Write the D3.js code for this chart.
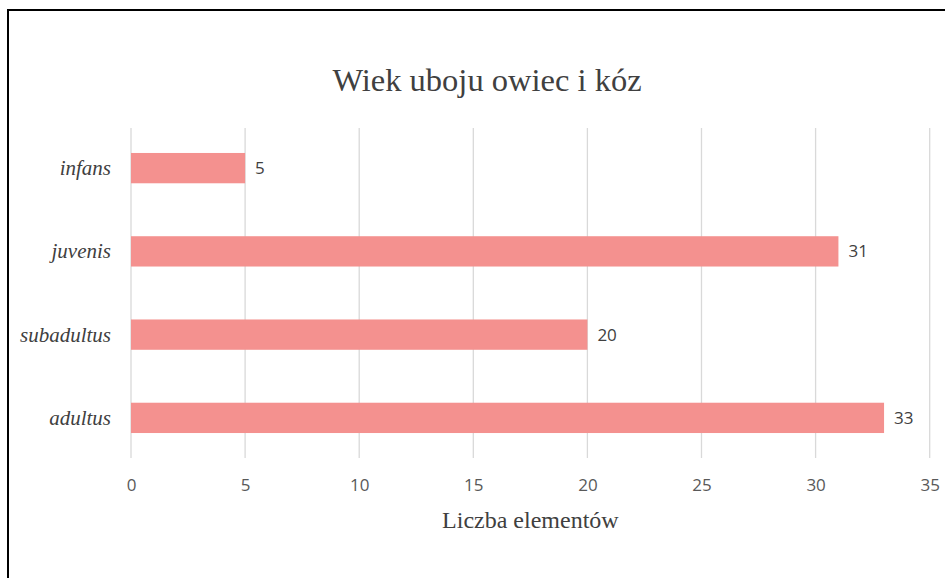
<!DOCTYPE html>
<html>
<head>
<meta charset="utf-8">
<script src="https://cdn.jsdelivr.net/npm/d3@7"></script>
<style>
  html, body { margin: 0; padding: 0; background: #fff; }
  svg { display: block; }
</style>
</head>
<body>
<svg id="chart" width="945" height="578"></svg>
<script>
// Age-at-slaughter groups and the number of elements in each
const categories = ["infans", "juvenis", "subadultus", "adultus"];
const values = [5, 31, 20, 33];
const tickValues = [0, 5, 10, 15, 20, 25, 30, 35];
const title = "Wiek uboju owiec i kóz";
const xTitle = "Liczba elementów";

const svg = d3.select("#chart");
const W = 945, H = 578;

// Frame (open on the right and bottom)
svg.append("path")
  .attr("d", `M8,${H} L8,10 L${W},10`)
  .attr("fill", "none")
  .attr("stroke", "#000")
  .attr("stroke-width", 2);

const plot = { left: 131, right: 929.7, top: 128, bottom: 458 };

const x = d3.scaleLinear().domain([0, 35]).range([plot.left, plot.right]);
const y = d3.scaleBand().domain(categories).range([plot.top, plot.bottom])
  .paddingInner(0.636).paddingOuter(0.3);

// Vertical gridlines
svg.append("g")
  .selectAll("line")
  .data(tickValues)
  .join("line")
  .attr("x1", d => x(d)).attr("x2", d => x(d))
  .attr("y1", plot.top).attr("y2", plot.bottom)
  .attr("stroke", "#d9d9d9")
  .attr("stroke-width", 1.3);

// Bars
svg.append("g")
  .selectAll("rect")
  .data(categories)
  .join("rect")
  .attr("x", x(0))
  .attr("y", d => y(d))
  .attr("width", (d, i) => x(values[i]) - x(0))
  .attr("height", y.bandwidth())
  .attr("fill", "#f4918f");

// Value labels
svg.append("g")
  .selectAll("text")
  .data(categories)
  .join("text")
  .attr("x", (d, i) => x(values[i]) + 10)
  .attr("y", d => y(d) + y.bandwidth() / 2)
  .attr("dy", "0.36em")
  .attr("font-family", "'Open Sans', 'Liberation Sans', sans-serif")
  .attr("font-size", 17)
  .attr("fill", "#404040")
  .text((d, i) => values[i]);

// Category labels
svg.append("g")
  .selectAll("text")
  .data(categories)
  .join("text")
  .attr("x", 111)
  .attr("y", d => y(d) + y.bandwidth() / 2)
  .attr("dy", "0.33em")
  .attr("text-anchor", "end")
  .attr("font-family", "'Liberation Serif', 'DejaVu Serif', serif")
  .attr("font-style", "italic")
  .attr("font-size", 21)
  .attr("fill", "#404040")
  .text(d => d);

// X axis tick labels
const xAxis = d3.axisBottom(x).tickValues(tickValues).tickSize(0).tickPadding(0);
const gx = svg.append("g")
  .attr("transform", `translate(0,${plot.bottom + 21})`)
  .call(xAxis);
gx.select(".domain").remove();
gx.selectAll("text")
  .attr("font-family", "'Open Sans', 'Liberation Sans', sans-serif")
  .attr("font-size", 17)
  .attr("fill", "#595959");

// Axis title
svg.append("text")
  .attr("x", (plot.left + plot.right) / 2)
  .attr("y", 528)
  .attr("text-anchor", "middle")
  .attr("font-family", "'Liberation Serif', 'DejaVu Serif', serif")
  .attr("font-size", 24)
  .attr("fill", "#404040")
  .text(xTitle);

// Chart title
svg.append("text")
  .attr("x", 487)
  .attr("y", 91)
  .attr("text-anchor", "middle")
  .attr("font-family", "'Liberation Serif', 'DejaVu Serif', serif")
  .attr("font-size", 32.5)
  .attr("fill", "#404040")
  .text(title);
</script>
</body>
</html>
